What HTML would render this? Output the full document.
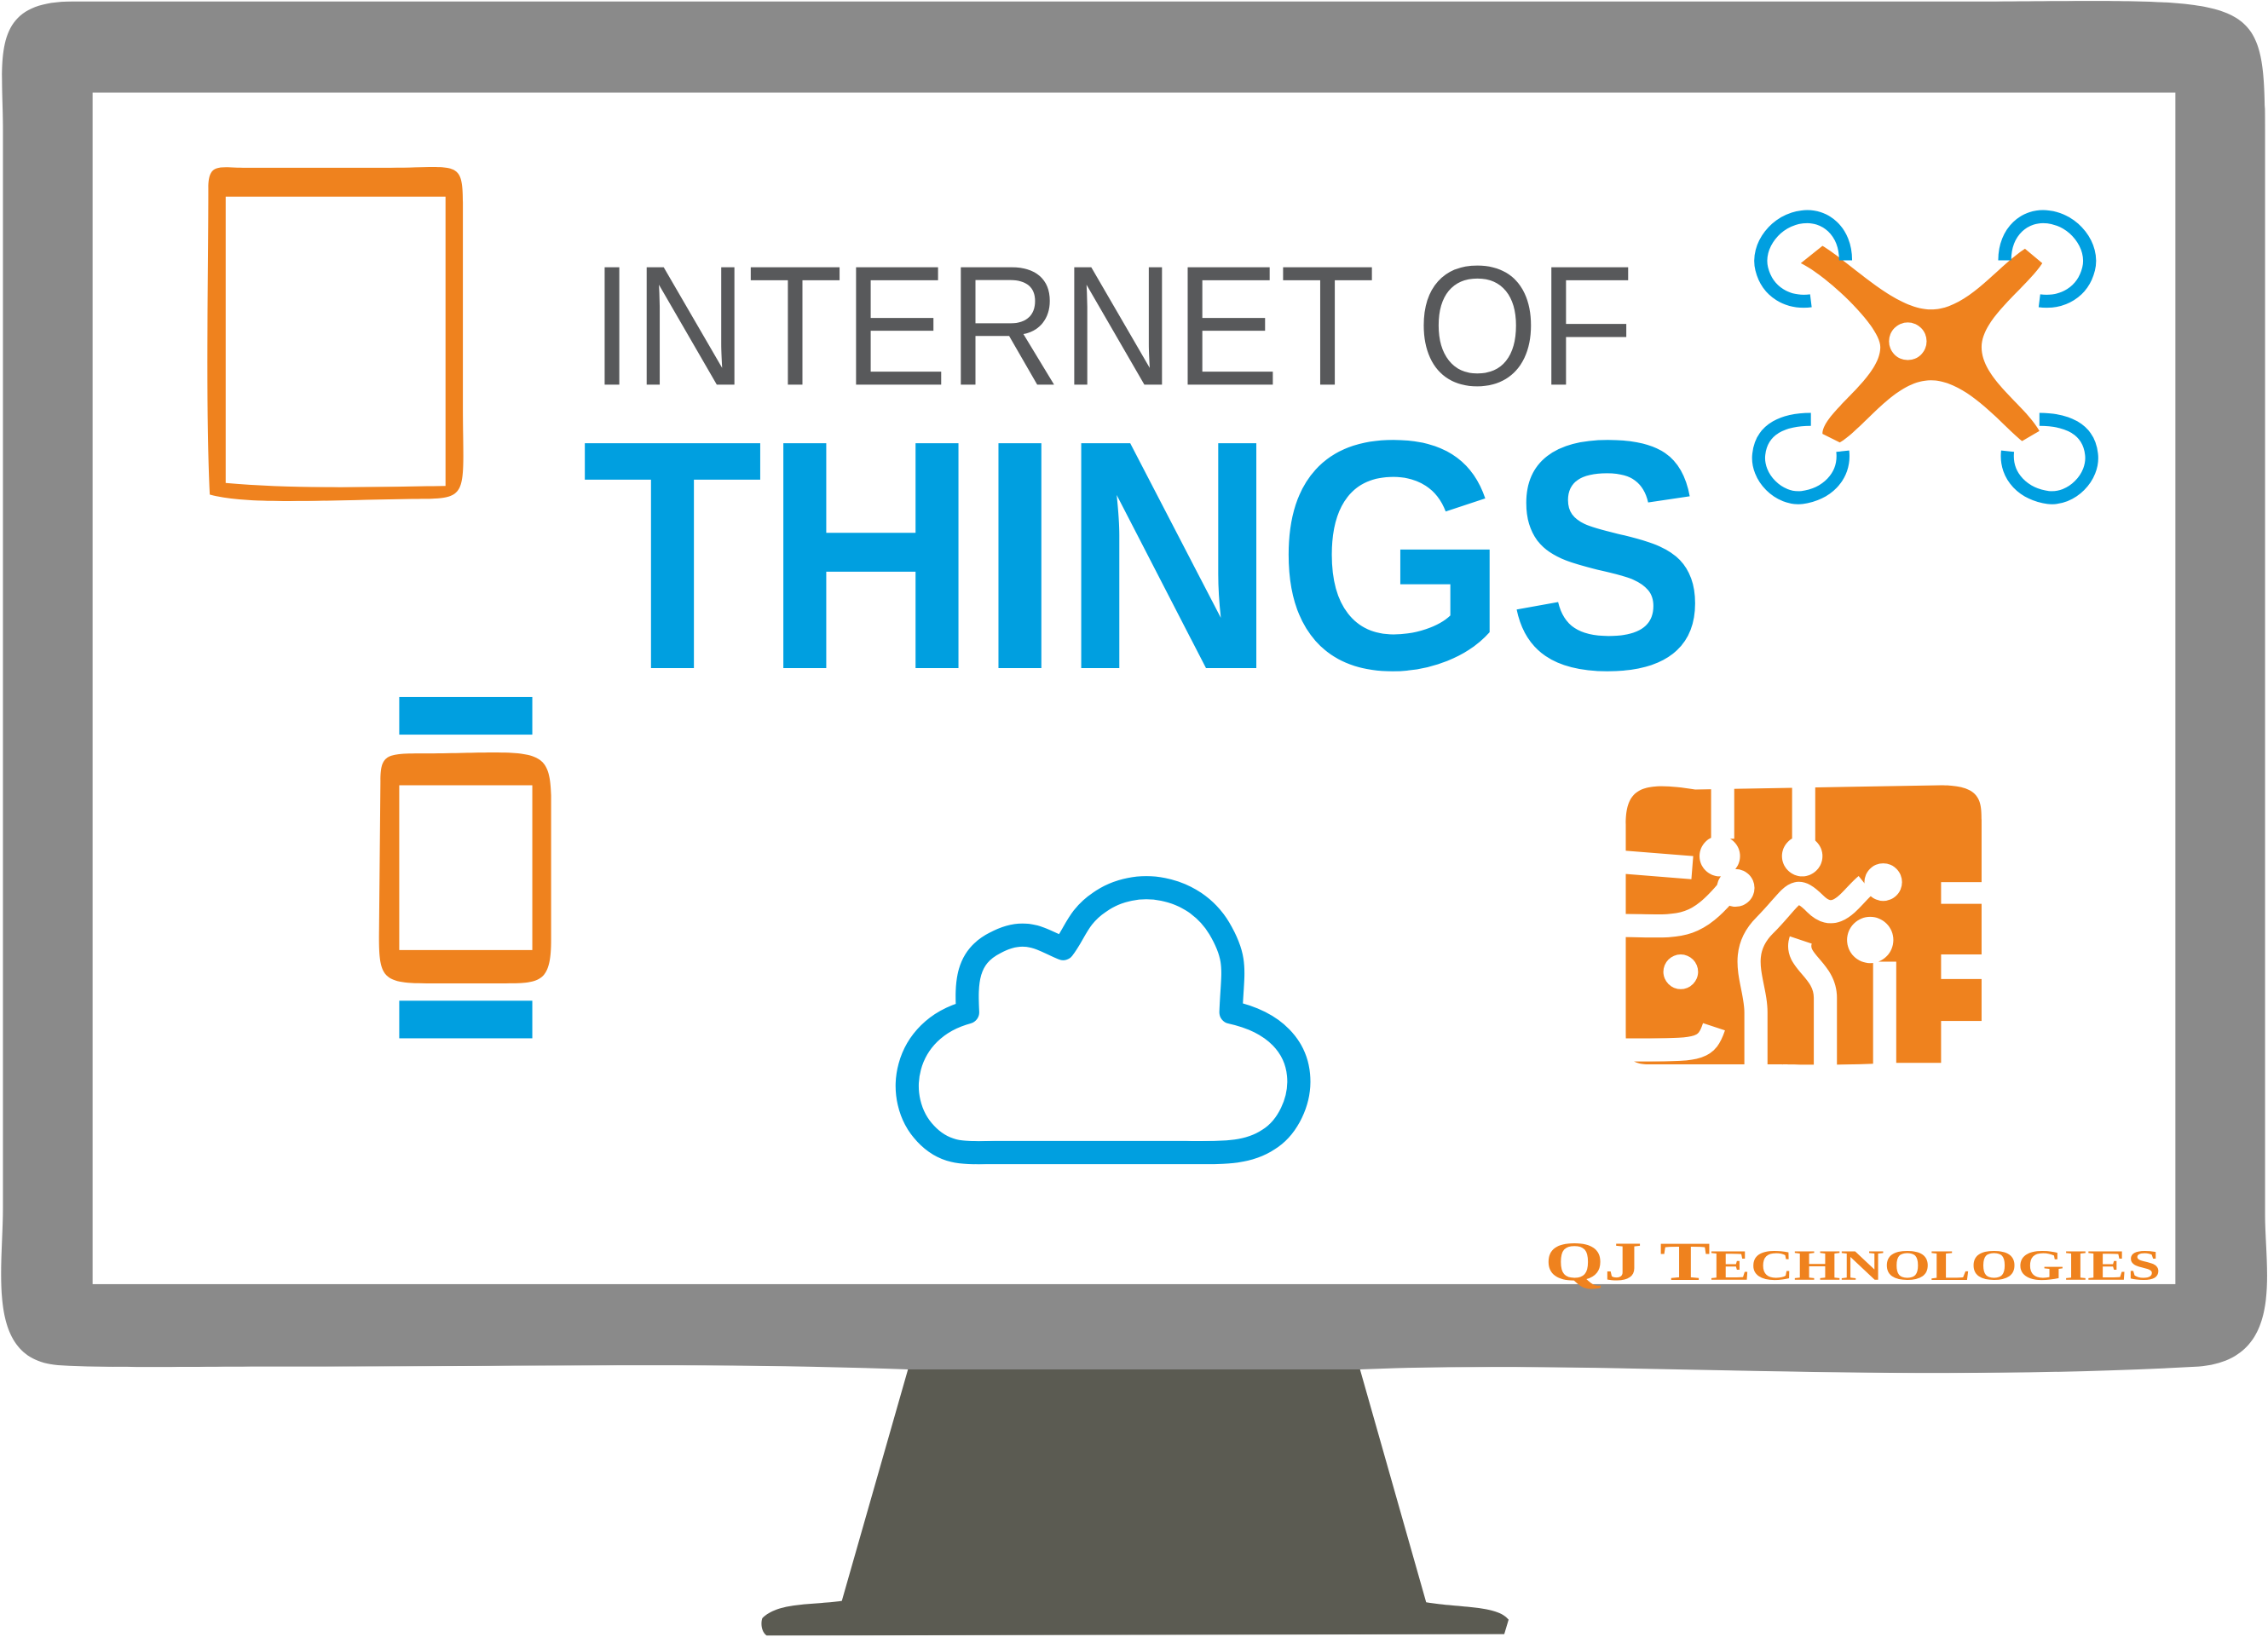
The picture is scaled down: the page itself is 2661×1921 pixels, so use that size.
<!DOCTYPE html>
<html><head><style>html,body{margin:0;padding:0;background:#fff}svg{display:block}</style></head>
<body>
<svg width="2661" height="1921" viewBox="0 0 1568 1132" xmlns="http://www.w3.org/2000/svg">
<rect x="0" y="0" width="1568" height="1132" fill="#fff"/>
<!-- stand -->
<path d="M628,946 L940,946 L986,1108 C1010,1112 1035,1110 1043,1120 L1040,1130 L530,1131 C526,1128 526,1122 527,1119 C538,1108 560,1110 582,1107 Z" fill="#5b5b52"/>
<!-- monitor -->
<path d="M50,1 L1380,1 C1560,0 1566,-5 1566,90 L1566,840 C1566,880 1580,940 1520,945 C1300,957 1100,940 940,947 L628,947 C500,942 360,945 200,945 C120,945 70,946 40,944 C-10,940 2,880 2,835 L2,90 C2,40 -8,1 50,1 Z" fill="#8a8a8a"/>
<rect x="64" y="64" width="1440" height="824" fill="#fff"/>
<!-- tablet -->
<path d="M144,130 C144,112 152,116 170,116 L270,116 C315,116 320,110 320,140 L320,280 C320,345 326,345 285,345 C220,346 170,349 145,342 C142,280 144,190 144,130 Z M156,136 L156,334 C200,338 250,337 308,336 L308,136 Z" fill="#ef821e" fill-rule="evenodd"/>
<!-- watch -->
<rect x="276" y="482" width="92" height="26" fill="#009fe0"/>
<rect x="276" y="692" width="92" height="26" fill="#009fe0"/>
<path d="M263,540 C263,520 268,521 300,521 C370,520 380,516 381,550 L381,650 C381,682 372,680 340,680 L295,680 C265,680 262,676 262,648 Z M276,543 L276,657 L368,657 L368,543 Z" fill="#ef821e" fill-rule="evenodd"/>
<!-- cloud -->
<path d="M669,700 C668,680 668,662 688,652 C710,640 722,651 735,656 C743,646 745,634 760,624 C785,606 825,612 843,642 C856,664 852,672 851,700 C915,714 903,772 877,788 C862,798 845,797 820,797 L688,797 C668,797 654,799 640,784 C617,760 624,712 669,700 Z" fill="none" stroke="#009fe0" stroke-width="16" stroke-linejoin="round"/>
<!-- drone -->
<g>
<path d="M1245,182 C1262,190 1300,225 1300,240 C1300,262 1260,285 1260,300 L1272,306 C1290,295 1310,263 1335,263 C1360,263 1385,295 1398,305 L1410,298 C1400,280 1370,262 1370,240 C1370,220 1400,200 1412,182 L1400,172 C1380,185 1360,214 1335,214 C1310,214 1280,182 1260,170 Z" fill="#ef821e"/>
<circle cx="1319" cy="236" r="13" fill="#fff"/>
<g fill="none" stroke="#009fe0" stroke-width="9">
<path d="M1276,180 C1276,160 1262,148 1246,150 C1228,152 1214,170 1218,186 C1222,202 1236,210 1252,208"/>
<path d="M1386,180 C1386,160 1400,148 1416,150 C1434,152 1448,170 1444,186 C1440,202 1426,210 1410,208"/>
<path d="M1252,290 C1234,290 1218,296 1216,314 C1214,330 1230,346 1246,344 C1262,342 1276,330 1274,312"/>
<path d="M1410,290 C1428,290 1444,296 1446,314 C1448,330 1432,346 1416,344 C1400,342 1386,330 1388,312"/>
</g>
</g>
<!-- circuit -->
<g>
<path d="M1124,570 C1124,545 1135,540 1172,546 L1342,543 C1371,543 1370,555 1370,570 L1370,735 L1305,735 C1280,737 1230,736 1230,736 L1140,736 C1124,736 1124,728 1124,710 Z" fill="#ef821e"/>
<g fill="#fff">
<rect x="1342" y="610" width="32" height="15"/>
<rect x="1342" y="660" width="32" height="17"/>
<rect x="1342" y="706" width="32" height="32"/>
</g>
<g fill="none" stroke="#fff" stroke-width="16" stroke-linecap="butt">
<path d="M1191,540 L1191,580"/>
<path d="M1247,540 L1247,585"/>
<path d="M1120,726 L1140,726 C1175,726 1180,725 1185,710"/>
<path d="M1120,640 C1160,640 1170,645 1195,615"/>
<path d="M1214,738 L1214,700 C1214,680 1200,660 1220,640 C1240,620 1240,610 1255,625 C1270,640 1280,620 1290,612"/>
<path d="M1262,738 L1262,690 C1262,670 1240,665 1245,650"/>
<path d="M1303,738 L1303,665"/>
<path d="M1120,596 L1170,600"/>
</g>
<g fill="#fff">
<circle cx="1189" cy="592" r="14"/>
<circle cx="1246" cy="592" r="14"/>
<circle cx="1200" cy="614" r="13"/>
<circle cx="1302" cy="610" r="13"/>
<circle cx="1162" cy="672" r="12"/>
<circle cx="1293" cy="650" r="16"/>
</g>
</g>
<!-- title -->
<text x="408" y="266" font-family="Liberation Sans, sans-serif" font-size="118" fill="#58595b" textLength="722" lengthAdjust="spacingAndGlyphs" style="font-weight:normal">INTERNET OF</text>
<text x="402" y="462" font-family="Liberation Sans, sans-serif" font-size="226" font-weight="bold" fill="#009fe0" textLength="778" lengthAdjust="spacingAndGlyphs">THINGS</text>
<!-- logo -->
<text x="1068" y="885" font-family="Liberation Serif, serif" font-weight="bold" fill="#ef821e" textLength="426" lengthAdjust="spacingAndGlyphs"><tspan font-size="38">QJ T</tspan><tspan font-size="30">ECHNOLOGIES</tspan></text>
</svg>
</body></html>
